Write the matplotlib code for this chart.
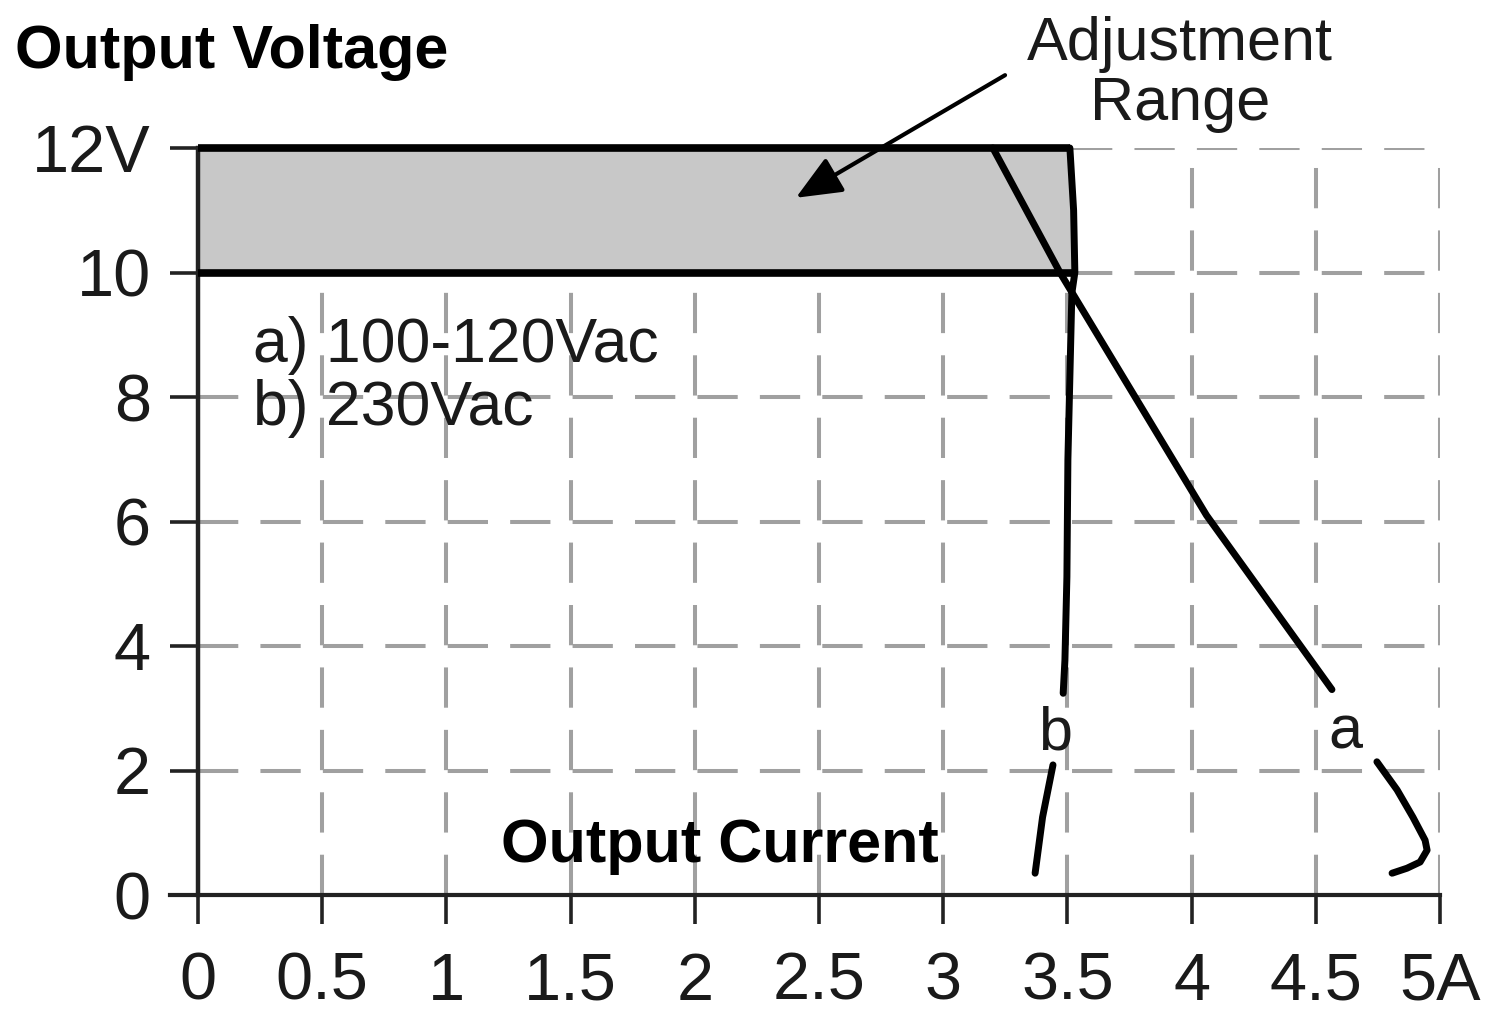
import matplotlib
matplotlib.use("Agg")
import matplotlib.pyplot as plt
import numpy as np

plt.rcParams['font.family'] = ['Liberation Sans', 'DejaVu Sans']

# ---- data ----
x_ticks = [0, 0.5, 1, 1.5, 2, 2.5, 3, 3.5, 4, 4.5, 5]
x_labels = ['0', '0.5', '1', '1.5', '2', '2.5', '3', '3.5', '4', '4.5', '5A']
y_ticks = [0, 2, 4, 6, 8, 10, 12]
y_labels = ['0', '2', '4', '6', '8', '10', '12V']

adj_low, adj_high = 10, 12

# curve a (100-120Vac), two segments (gap for label)
a1_current = [3.20, 3.47, 4.06, 4.565]
a1_voltage = [12.0, 10.0, 6.1, 3.30]
a2_current = [4.746, 4.827, 4.891, 4.94, 4.948, 4.92, 4.867, 4.807]
a2_voltage = [2.14, 1.69, 1.25, 0.88, 0.72, 0.53, 0.43, 0.35]

# curve b (230Vac), two segments
b1_current = [3.51, 3.525, 3.53, 3.518, 3.502, 3.498, 3.49, 3.483]
b1_voltage = [12.0, 11.0, 10.0, 9.67, 6.99, 5.11, 3.77, 3.24]
b2_current = [3.442, 3.40, 3.37]
b2_voltage = [2.09, 1.25, 0.35]

fig = plt.figure(figsize=(15, 10.3), dpi=100)
ax = fig.add_axes([198/1500, 135/1030, 1242/1500, 747/1030])
ax.set_xlim(0, 5)
ax.set_ylim(0, 12)

grid_c = '#a0a0a0'
ax.set_xticks(x_ticks)
ax.set_xticklabels(x_labels)
ax.set_yticks(y_ticks)
ax.set_yticklabels(y_labels)
ax.grid(True, color=grid_c, linewidth=2.9, linestyle=(0, (10, 5.5)))
ax.set_axisbelow(True)

for s in ['top', 'right']:
    ax.spines[s].set_visible(False)
ax.spines['bottom'].set_linewidth(3)
ax.spines['bottom'].set_color('#222222')
ax.spines['bottom'].set_bounds(-0.113, 5)
ax.spines['left'].set_linewidth(3.2)
ax.spines['left'].set_color('#222222')

ax.tick_params(axis='x', direction='out', length=21, width=2.6, color='#222222',
               labelsize=48, pad=20, labelcolor='#1a1a1a')
ax.tick_params(axis='y', direction='out', length=20, width=2.6, color='#222222',
               labelsize=48, pad=14, labelcolor='#1a1a1a')

# adjustment range region
sel = [i for i, v in enumerate(b1_voltage) if v >= adj_low]
yy = np.array([b1_voltage[i] for i in sel])
xx = np.array([b1_current[i] for i in sel])
ax.fill_betweenx(yy, 0, xx, color='#c8c8c8', zorder=2)
ax.hlines([adj_high], 0, xx[0], colors='black', linewidth=5.5, zorder=4, clip_on=False)
ax.hlines([adj_low], 0, xx[-1], colors='black', linewidth=5.5, zorder=4)

lw = 5
kw = dict(color='black', lw=lw, zorder=5, solid_capstyle='round', solid_joinstyle='round')
ax.plot(a1_current, a1_voltage, clip_on=False, **kw)
ax.plot(a2_current, a2_voltage, **kw)
ax.plot(b1_current, b1_voltage, clip_on=False, **kw)
ax.plot(b2_current, b2_voltage, **kw)

# texts
fs = 44
ax.text(0.221, 8.56, 'a) 100-120Vac', fontsize=45, va='baseline', ha='left', color='#1a1a1a')
ax.text(0.221, 7.55, 'b) 230Vac', fontsize=45, va='baseline', ha='left', color='#1a1a1a')
ax.text(2.10, 0.53, 'Output Current', fontsize=fs, fontweight='bold', va='baseline', ha='center')
ax.text(3.45, 2.33, 'b', fontsize=fs, va='baseline', ha='center', color='#1a1a1a')
ax.text(4.62, 2.36, 'a', fontsize=fs, va='baseline', ha='center', color='#1a1a1a')

fig.text(15/1500, 1 - 68/1030, 'Output Voltage', fontsize=fs, fontweight='bold',
         va='baseline', ha='left')
ax.text(3.953, 13.41, 'Adjustment', fontsize=fs, va='baseline', ha='center', clip_on=False, color='#1a1a1a')
ax.text(3.953, 12.45, 'Range', fontsize=fs, va='baseline', ha='center', clip_on=False, color='#1a1a1a')

ax.annotate('', xy=(2.407, 11.2), xytext=(3.249, 13.17),
            arrowprops=dict(arrowstyle='-|>,head_length=1.4,head_width=0.6',
                            mutation_scale=20, color='black', lw=3,
                            shrinkA=0, shrinkB=0),
            annotation_clip=False, zorder=6)

fig.savefig('out.png', dpi=100)
